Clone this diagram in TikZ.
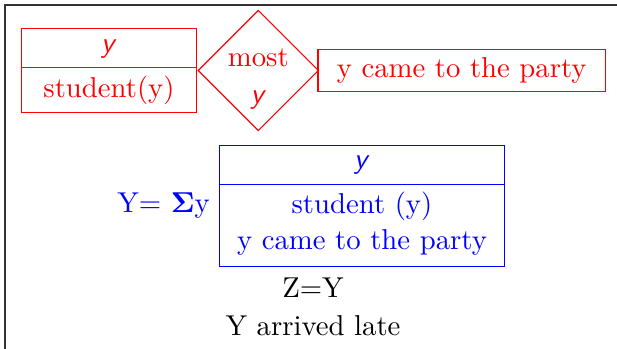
\documentclass[tikz,border=0pt]{standalone}
\usepackage{amsmath}
\usetikzlibrary{positioning,shapes.multipart,shapes.geometric}
\tikzset{
  splitbox/.style={draw, rectangle split, rectangle split parts=2, align=center, inner ysep=2.5pt},
  quant/.style={draw=red, text=red, diamond, inner sep=-0.55pt, align=center,
    minimum width=41.8pt, minimum height=41pt, text height=23pt, text depth=-2.4pt},
  scopebox/.style={draw=red, text=red, minimum width=100pt, inner ysep=2.9pt}
}
\newcommand{\dref}{\rule[-2.8pt]{0pt}{8.2pt}\textsf{\itshape y}}
\begin{document}
\begin{tikzpicture}[x=0.348pt, y=-0.348pt]
    \useasboundingbox (0,0) rectangle (617,349);
    \draw[black!80, line width=0.8pt] (5,349) -- (5,5) -- (617,5);
    \node[splitbox, draw=red, text=red, text width=54.5pt] (restr) at (109,70.5)
      {\dref \nodepart{two} student(y)};
    \node[quant, right=0pt of restr] (most) {most\\[0.9pt]\textsf{\itshape y}};
    \node[scopebox, right=-0.6pt of most] (nucl) {y came to the party};
    \node[splitbox, draw=blue, text=blue, text width=92.8pt, anchor=north] (sum) at (362,145)
      {\dref \nodepart{two} student (y)\\[0.5pt] y came to the party\rule[-3pt]{0pt}{0pt}};
    \node[text=blue, left=-0.5pt of sum.west] (plural) {Y= $\mathbf{\Sigma}$y};
    \node (eq) at (313,288) {Z=Y};
    \node[below=-0.8pt of eq] (pred) {Y arrived late};
\end{tikzpicture}
\end{document}
